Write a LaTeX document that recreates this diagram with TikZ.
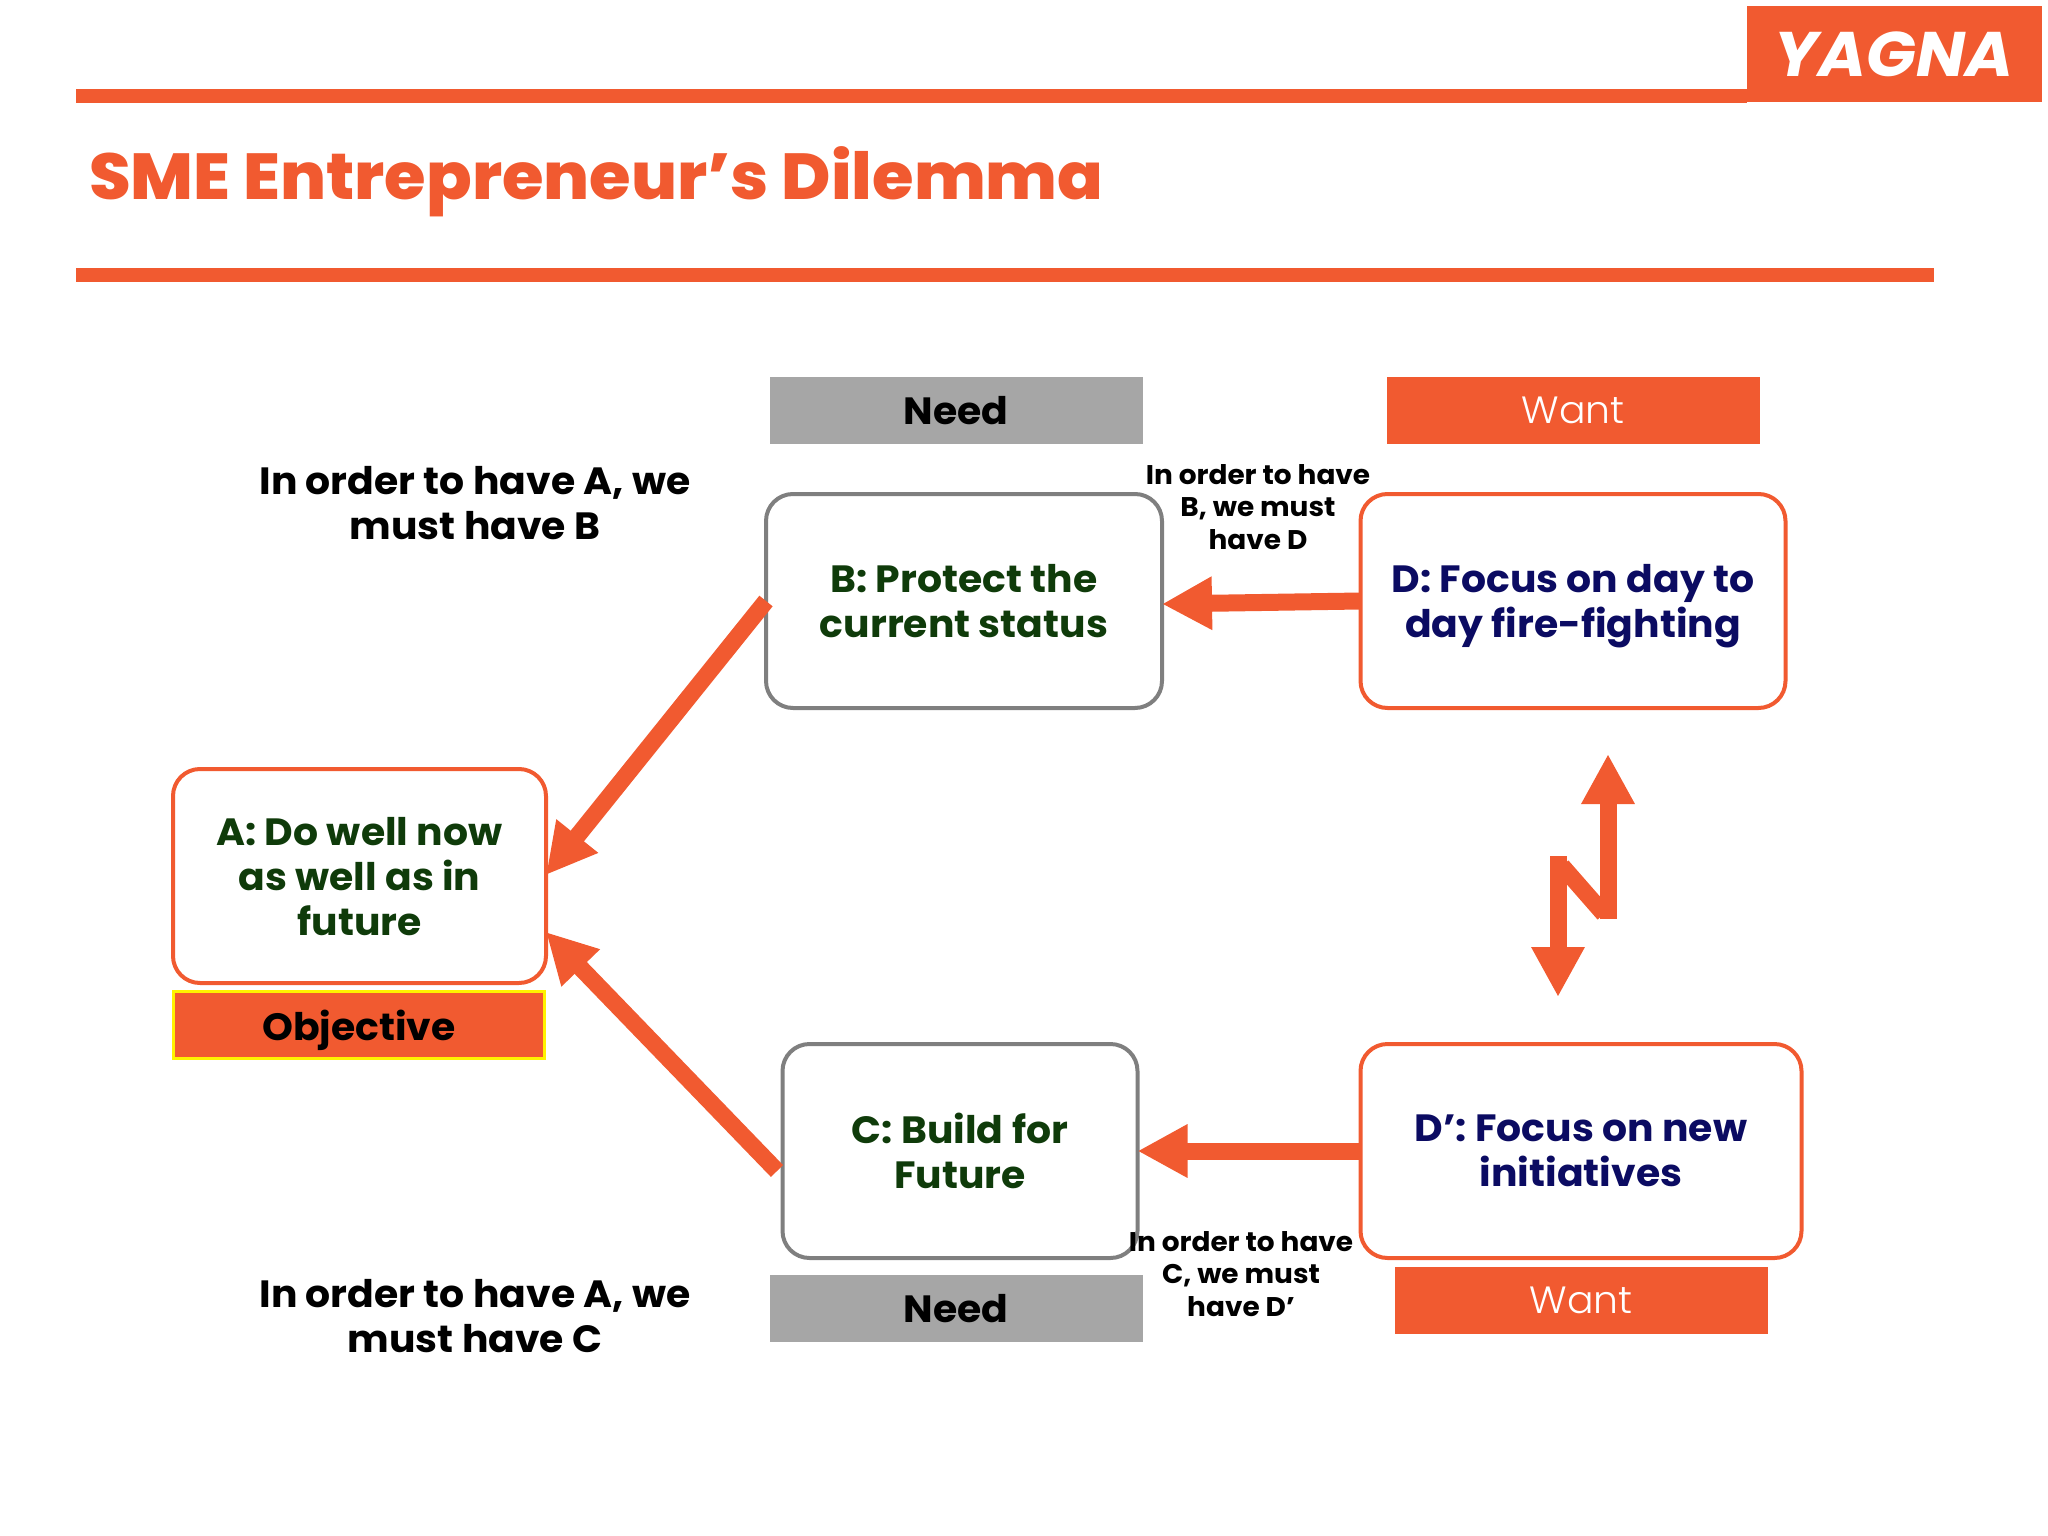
\documentclass[tikz,border=0pt]{standalone}
\usepackage{fontspec}
\setmainfont[FakeStretch=1.035]{Poppins}
\newfontfamily\heavyfont[FakeStretch=1.035]{Poppins ExtraBold}
\newfontfamily\lightfont[FakeStretch=1.035]{Poppins Light}
\usetikzlibrary{arrows.meta}
\usetikzlibrary{positioning}
\definecolor{yagnaorange}{HTML}{F15A30}
\definecolor{needgrey}{HTML}{A6A6A6}
\definecolor{boxgrey}{HTML}{7F7F7F}
\definecolor{goalgreen}{HTML}{0F3B0A}
\definecolor{wantblue}{HTML}{0B0B62}
\tikzset{
	cloud box/.style={draw,rounded corners=27pt,line width=4pt,fill=white,align=center,text depth=0pt,font=\fontsize{38}{45}\selectfont\bfseries,inner sep=0pt,outer sep=0pt},
	orange box/.style={cloud box,draw=yagnaorange},
	grey box/.style={cloud box,draw=boxgrey},
	tag/.style={minimum width=373pt,minimum height=67pt,inner sep=0pt,text depth=0pt,font=\fontsize{38}{45}\selectfont},
	need tag/.style={tag,fill=needgrey,font=\fontsize{38}{45}\selectfont\bfseries},
	want tag/.style={tag,fill=yagnaorange,text=white,font=\fontsize{38}{45}\lightfont},
	big note/.style={align=center,font=\fontsize{38}{45}\selectfont\bfseries},
	small note/.style={align=center,font=\fontsize{27}{32.5}\selectfont\bfseries},
	fat arrow/.style={draw=yagnaorange,line width=17pt,-{Triangle[length=50pt,width=50pt]}},
	zig part/.style={draw=yagnaorange,line width=17pt},
	rule/.style={fill=yagnaorange,draw=none,minimum height=14pt,inner sep=0pt},
}
\begin{document}
\begin{tikzpicture}[x=1pt,y=-1pt]
	\useasboundingbox (0,0) rectangle (2048,1536);

	\node[rule,minimum width=1671pt] (top rule) at (911.5,96) {};
	\node[rule,minimum width=1858pt] (low rule) at (1005,275) {};
	\node[fill=yagnaorange,minimum width=295pt,minimum height=96pt,inner sep=0pt,text=white,font=\fontsize{63}{70}\selectfont\bfseries\itshape] (logo) at (1894,54) {YAGNA};
	\node[text=yagnaorange,anchor=west,inner sep=0pt,font=\fontsize{65}{75}\heavyfont] (title) at (89,182) {SME Entrepreneur’s Dilemma};

	\node[need tag] (need B) at (956,410) {Need};
	\node[want tag] (want D) at (1573,410) {Want};
	\node[need tag] (need C) at (956,1308) {Need};
	\node[want tag] (want E) at (1581,1300) {Want};
	\node[tag,fill=yagnaorange,draw=yellow,line width=2.5pt,minimum width=371pt,font=\fontsize{38}{45}\selectfont\bfseries] (objective) at (359,1025) {Objective};

	\node[orange box,text=goalgreen,minimum width=373pt,minimum height=214pt] (A) at (359.5,876) {A: Do well now\\as well as in\\future};
	\node[grey box,text=goalgreen,minimum width=396pt,minimum height=214pt] (B) at (964,601) {B: Protect the\\current status};
	\node[grey box,text=goalgreen,minimum width=355pt,minimum height=214pt] (C) at (960,1151) {C: Build for\\Future};
	\node[orange box,text=wantblue,minimum width=425pt,minimum height=214pt] (D) at (1573,601) {D: Focus on day to\\day fire-fighting};
	\node[orange box,text=wantblue,minimum width=441pt,minimum height=214pt] (E) at (1581,1151) {D’: Focus on new\\initiatives};

	\node[big note] (note B) at (475,503) {In order to have A, we\\must have B};
	\node[big note] (note C) at (475,1316) {In order to have A, we\\must have C};
	\node[small note] (note D) at (1258,507) {In order to have\\B, we must\\have D};
	\node[small note] (note E) at (1241,1274) {In order to have\\C, we must\\have D’};

	\coordinate (B tail) at (B.west);
	\coordinate (C tail) at (777,1171);
	\draw[fat arrow] (B tail) -- (A.east |- 0,875);
	\draw[fat arrow] (C tail) -- (A.east |- 0,932);
	\draw[fat arrow] (D.west) -- (B.east |- 0,604);
	\draw[fat arrow] (E.west) -- (C.east);

	\coordinate (zig top) at (1608,754);
	\coordinate (zig right) at (1608,919);
	\coordinate (zig left) at (1558,856);
	\coordinate (zig low) at (1558,997);
	\draw[fat arrow] (zig right) -- (zig top);
	\draw[fat arrow] (zig left) -- (zig low);
	\draw[zig part] (1562,866) -- (1604,914);
\end{tikzpicture}
\end{document}
